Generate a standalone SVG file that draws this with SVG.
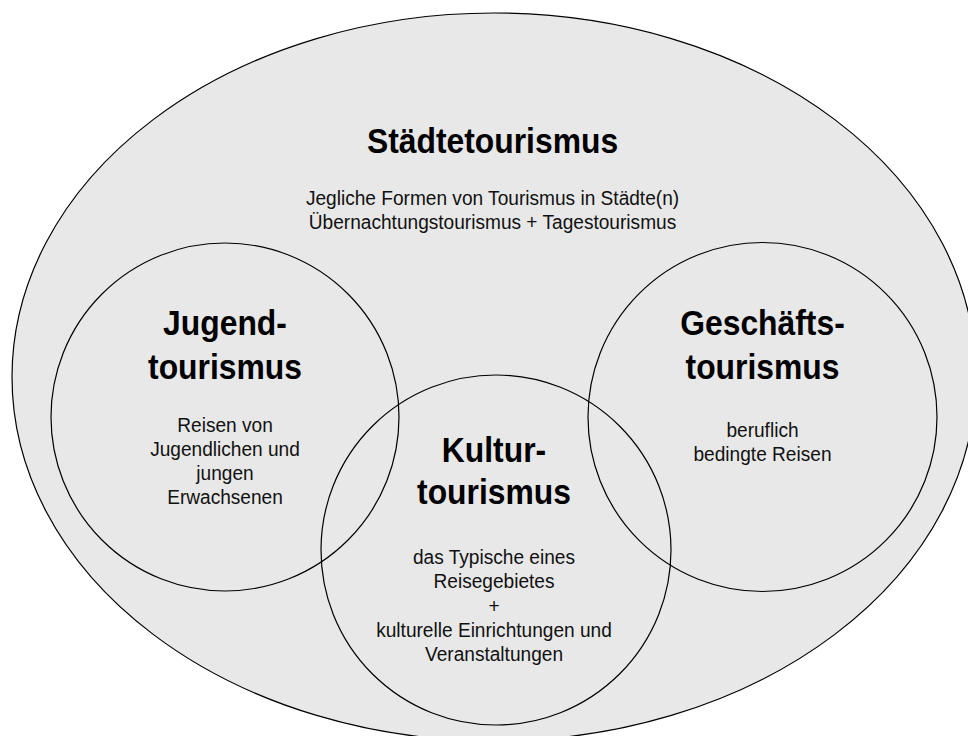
<svg xmlns="http://www.w3.org/2000/svg" width="968" height="736" viewBox="0 0 968 736">
<style>
.shape{stroke:#000;stroke-width:1.2}
.big{fill:#e8e8e8}
.ring{fill:none}
.h{font-family:"Liberation Sans",Arial,sans-serif;font-weight:bold;font-size:35px;fill:#000;text-anchor:middle}
.t{font-family:"Liberation Sans",Arial,sans-serif;font-size:21px;fill:#111;text-anchor:middle}
</style>
<rect width="968" height="736" fill="#fff"/>
<g id="staedtetourismus">
<ellipse class="shape big" cx="494" cy="377" rx="482" ry="364"/>
<g transform="translate(492.5 0) scale(0.91 1)">
<text class="h" x="0" y="153">Städtetourismus</text>
<text class="t" x="0" y="205">Jegliche Formen von Tourismus in Städte(n)</text>
<text class="t" x="0" y="229">Übernachtungstourismus + Tagestourismus</text>
</g>
</g>
<g id="jugendtourismus">
<circle class="shape ring" cx="225" cy="417" r="174"/>
<g transform="translate(225 0) scale(0.91 1)">
<text class="h" x="0" y="335">Jugend-</text>
<text class="h" x="0" y="379">tourismus</text>
<text class="t" x="0" y="432">Reisen von</text>
<text class="t" x="0" y="456">Jugendlichen und</text>
<text class="t" x="0" y="480">jungen</text>
<text class="t" x="0" y="504">Erwachsenen</text>
</g>
</g>
<g id="geschaeftstourismus">
<circle class="shape ring" cx="762.5" cy="417" r="174.5"/>
<g transform="translate(762.5 0) scale(0.91 1)">
<text class="h" x="0" y="335">Geschäfts-</text>
<text class="h" x="0" y="379">tourismus</text>
<text class="t" x="0" y="437">beruflich</text>
<text class="t" x="0" y="461">bedingte Reisen</text>
</g>
</g>
<g id="kulturtourismus">
<circle class="shape ring" cx="496" cy="550" r="175"/>
<g transform="translate(494 0) scale(0.91 1)">
<text class="h" x="0" y="462">Kultur-</text>
<text class="h" x="0" y="504">tourismus</text>
<text class="t" x="0" y="564">das Typische eines</text>
<text class="t" x="0" y="588.5">Reisegebietes</text>
<text class="t" x="0" y="613">+</text>
<text class="t" x="0" y="637">kulturelle Einrichtungen und</text>
<text class="t" x="0" y="661">Veranstaltungen</text>
</g>
</g>
</svg>
